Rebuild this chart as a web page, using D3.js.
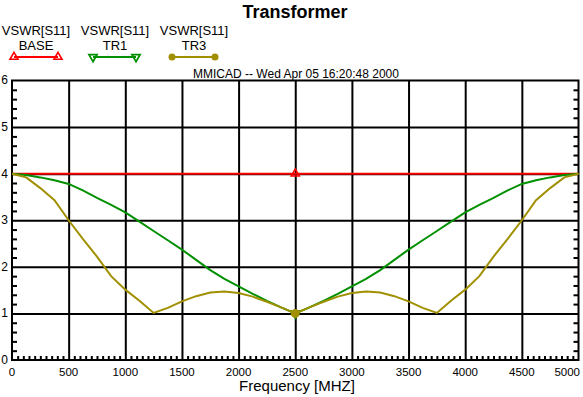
<!DOCTYPE html>
<html>

<head>
  <script src="https://d3js.org/d3.v7.min.js"></script>
  <style>
    body { margin: 0; background: #fff; }
    text { font-family: "Liberation Sans", Arial, sans-serif; }
  </style>
</head>

<body>
  <svg id="vswr" width="583" height="397"></svg>
  <script>
    // frequency points (MHz) and VSWR readings
    const freqs = [0, 125, 250, 375, 500, 625, 750, 875, 1000, 1125, 1250, 1375, 1500, 1625, 1750, 1875, 2000,
      2125, 2250, 2375, 2500, 2625, 2750, 2875, 3000, 3125, 3250, 3375, 3500, 3625, 3750, 3875, 4000, 4125,
      4250, 4375, 4500, 4625, 4750, 4875, 5000];
    const base = [4, 4, 4, 4, 4, 4, 4, 4, 4, 4, 4, 4, 4, 4, 4, 4, 4, 4, 4, 4, 4, 4, 4, 4, 4, 4, 4, 4, 4, 4, 4,
      4, 4, 4, 4, 4, 4, 4, 4, 4, 4];
    const tr1 = [4.00, 3.97, 3.92, 3.86, 3.78, 3.64, 3.48, 3.33, 3.17, 2.97, 2.77, 2.57, 2.37, 2.15, 1.93, 1.74,
      1.58, 1.42, 1.27, 1.13, 1.00, 1.13, 1.27, 1.42, 1.58, 1.74, 1.93, 2.15, 2.37, 2.57, 2.77, 2.97, 3.17,
      3.33, 3.48, 3.64, 3.78, 3.86, 3.92, 3.97, 4.00];
    const tr3 = [4.00, 3.92, 3.69, 3.43, 3.00, 2.60, 2.22, 1.80, 1.51, 1.27, 1.01, 1.12, 1.26, 1.37, 1.45, 1.47,
      1.44, 1.36, 1.25, 1.13, 1.00, 1.13, 1.25, 1.36, 1.44, 1.47, 1.45, 1.37, 1.26, 1.12, 1.01, 1.27, 1.51,
      1.80, 2.22, 2.60, 3.00, 3.43, 3.69, 3.92, 4.00];
    const markerFreq = 2500;
    const seriesNames = ["BASE", "TR1", "TR3"];
    const xTicks = [0, 500, 1000, 1500, 2000, 2500, 3000, 3500, 4000, 4500, 5000];
    const yTicks = [0, 1, 2, 3, 4, 5, 6];

    const svg = d3.select('svg#vswr');
    const pLeft = 12, pRight = 578.5, pTop = 80.5, pBottom = 360;
    const xScale = d3.scaleLinear().domain([0, 5000]).range([pLeft, pRight]);
    const yScale = d3.scaleLinear().domain([0, 6]).range([pBottom, pTop]);
    const colors = { BASE: "#ff0000", TR1: "#009000", TR3: "#a09000" };
    const values = { BASE: base, TR1: tr1, TR3: tr3 };

    //gridlines
    svg.append('g')
      .attr('transform', `translate(0,${pBottom})`)
      .call(d3.axisBottom(xScale).tickValues(xTicks.slice(1, -1)).tickSize(-(pBottom - pTop)).tickFormat(""))
      .call(g => g.select('.domain').remove())
      .selectAll('line').attr('stroke', '#000').attr('stroke-width', 2);
    svg.append('g')
      .attr('transform', `translate(${pLeft},0)`)
      .call(d3.axisLeft(yScale).tickValues(yTicks.slice(1, -1)).tickSize(-(pRight - pLeft)).tickFormat(""))
      .call(g => g.select('.domain').remove())
      .selectAll('line').attr('stroke', '#000').attr('stroke-width', 2);

    //minor ticks
    const xMinor = d3.range(50, 5000, 50).filter(d => d % 500 != 0);
    const yMinor = d3.range(1, 30).map(d => d / 5).filter(d => Math.abs(d - Math.round(d)) > 0.01);
    svg.append('g')
      .attr('transform', `translate(0,${pBottom})`)
      .call(d3.axisBottom(xScale).tickValues(xMinor).tickSize(-4).tickFormat(""))
      .call(g => g.select('.domain').remove())
      .selectAll('line').attr('stroke', '#000').attr('stroke-width', 2);
    svg.append('g')
      .attr('transform', `translate(${pLeft},0)`)
      .call(d3.axisLeft(yScale).tickValues(yMinor).tickSize(-5).tickFormat(""))
      .call(g => g.select('.domain').remove())
      .selectAll('line').attr('stroke', '#000').attr('stroke-width', 2);
    svg.append('g')
      .attr('transform', `translate(${pRight},0)`)
      .call(d3.axisRight(yScale).tickValues(yMinor).tickSize(-5).tickFormat(""))
      .call(g => g.select('.domain').remove())
      .selectAll('line').attr('stroke', '#000').attr('stroke-width', 2);

    //border
    svg.append('rect')
      .attr('x', pLeft).attr('y', pTop)
      .attr('width', pRight - pLeft).attr('height', pBottom - pTop)
      .attr('fill', 'none').attr('stroke', '#000').attr('stroke-width', 2);

    //tick labels
    svg.append('g').selectAll('text').data(xTicks)
      .join('text')
      .attr('x', (d, i) => i == xTicks.length - 1 ? 580 : xScale(d))
      .attr('y', 376)
      .attr('text-anchor', (d, i) => i == xTicks.length - 1 ? 'end' : 'middle')
      .style('font-size', '11.5px')
      .text(d => d);
    svg.append('g').selectAll('text').data(yTicks)
      .join('text')
      .attr('x', 8)
      .attr('y', d => yScale(d))
      .attr('dy', '0.32em')
      .attr('text-anchor', 'end')
      .style('font-size', '12px')
      .text(d => d);

    //curves
    const line = d3.line().x((d, i) => xScale(freqs[i])).y(d => yScale(d));
    const mi = freqs.indexOf(markerFreq);
    const tri = d3.symbol().type(d3.symbolTriangle).size(28);
    function marker(g, name, cx, cy, r) {
      if (name == "BASE") {
        g.append('path').attr('d', tri).attr('transform', `translate(${cx},${cy})`)
          .attr('fill', 'none').attr('stroke', colors[name]).attr('stroke-width', 1.6);
      } else if (name == "TR1") {
        g.append('path').attr('d', tri).attr('transform', `translate(${cx},${cy}) rotate(180)`)
          .attr('fill', 'none').attr('stroke', colors[name]).attr('stroke-width', 1.8);
      } else {
        g.append('circle').attr('cx', cx).attr('cy', cy).attr('r', r).attr('fill', colors[name]);
      }
    }
    let plot = svg.append('g');
    seriesNames.forEach(name => {
      plot.append('path')
        .datum(values[name])
        .attr('d', line)
        .attr('fill', 'none')
        .attr('stroke', colors[name])
        .attr('stroke-width', 2);
      marker(plot, name, xScale(markerFreq), yScale(values[name][mi]), 4.5);
    });

    //legend
    const legendX = [36, 115, 194];
    const legendLine = [[14, 58], [93, 136], [172, 215]];
    seriesNames.forEach((name, i) => {
      let g = svg.append('g');
      g.append('text').attr('x', legendX[i]).attr('y', 35).attr('text-anchor', 'middle')
        .style('font-size', '13px').text('VSWR[S11]');
      g.append('text').attr('x', legendX[i]).attr('y', 50).attr('text-anchor', 'middle')
        .style('font-size', '13px').text(name);
      g.append('line').attr('x1', legendLine[i][0]).attr('x2', legendLine[i][1])
        .attr('y1', 57).attr('y2', 57).attr('stroke', colors[name]).attr('stroke-width', 2);
      marker(g, name, legendLine[i][0], 57, 3.5);
      marker(g, name, legendLine[i][1], 57, 3.5);
    });

    //titles
    svg.append('text')
      .attr('x', 295).attr('y', 18)
      .attr('text-anchor', 'middle')
      .style('font-size', '18px').style('font-weight', 'bold')
      .text('Transformer');
    svg.append('text')
      .attr('x', 296).attr('y', 78)
      .attr('text-anchor', 'middle')
      .style('font-size', '12px')
      .text('MMICAD -- Wed Apr 05 16:20:48 2000');
    svg.append('text')
      .attr('x', 297).attr('y', 391)
      .attr('text-anchor', 'middle')
      .style('font-size', '15px')
      .text('Frequency [MHZ]');
  </script>
</body>

</html>
